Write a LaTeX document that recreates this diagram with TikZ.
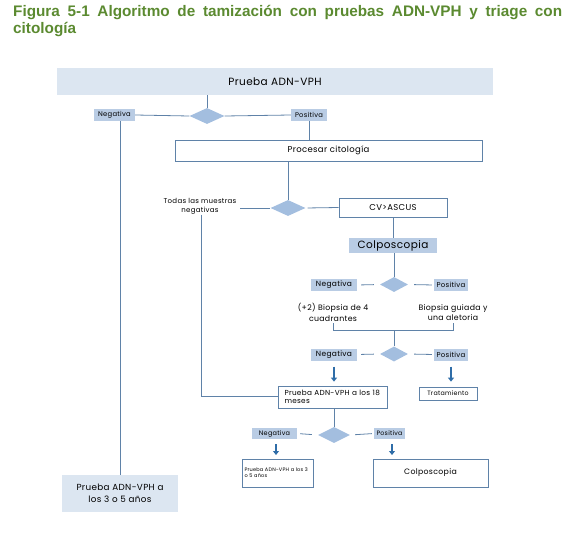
\documentclass[tikz,border=0pt]{standalone}
\usepackage{fontspec}
\setmainfont[LetterSpace=4]{Poppins}
\newfontfamily\titlefont{Liberation Sans}
\usetikzlibrary{shapes.geometric,arrows.meta}
\definecolor{titlegreen}{HTML}{5B8A30}
\definecolor{linecol}{HTML}{5F82A8}
\definecolor{arrcol}{HTML}{2F6DA8}
\definecolor{labfill}{HTML}{B9CCE4}
\definecolor{topfill}{HTML}{DCE6F1}
\definecolor{diafill}{HTML}{A3BEDF}
\newcommand{\fsz}[2]{\fontsize{#1}{#2}\selectfont}
\tikzset{
  lab/.style={fill=labfill, inner sep=0pt, font=\fsz{6.8}{8}},
  dia/.style={diamond, fill=diafill, inner sep=0pt},
  wbox/.style={draw=linecol, fill=white, line width=0.7pt, inner sep=0pt},
  ln/.style={draw=linecol, line width=0.8pt},
  arr/.style={draw=arrcol, line width=1.3pt, -{Triangle[length=4pt,width=6pt]}},
  plain/.style={inner sep=0pt, align=center, font=\fsz{7}{9}}
}
\begin{document}
\begin{tikzpicture}[x=1pt,y=-1pt]
\useasboundingbox (0,0) rectangle (574,535);
% title
\node[anchor=north west, inner sep=0pt, text width=549pt, align=justify, text=titlegreen,
  font=\titlefont\bfseries\fsz{15.3}{17}] (title) at (13,5)
  {Figura 5-1 Algoritmo de tamización con pruebas ADN-VPH y triage con\linebreak citología};

% top box
\node[fill=topfill, minimum width=436pt, minimum height=27pt, inner sep=0pt,
  font=\fsz{10.5}{12}] (top) at (275,81.5) {Prueba ADN-VPH};
\node[dia, minimum width=35pt, minimum height=16pt] (d1) at (207,116) {};
\node[lab, minimum width=41pt, minimum height=12pt] (n1) at (114.5,115) {Negativa};
\node[lab, minimum width=36pt, minimum height=12pt] (p1) at (309,115) {Positiva};
\node[wbox, minimum width=307pt, minimum height=21pt, font=\fsz{8.5}{10}] (proc) at (328.5,150.5) {Procesar citología};

\draw[ln] (top.south -| d1.north) -- (d1.north);
\draw[ln] (n1.east) -- (d1.west);
\draw[ln] (d1.east) -- (p1.west);
\draw[ln] (p1.south) -- (p1.south |- proc.north);

% second level
\node[dia, minimum width=35pt, minimum height=16pt] (d2) at (288,208) {};
\node[plain] (todas) at (200,206.5) {Todas las muestras\\negativas};
\node[wbox, minimum width=108pt, minimum height=19pt, font=\fsz{8.5}{10}] (cv) at (393,207.5) {CV>ASCUS};
\node[fill=labfill, minimum width=88pt, minimum height=15pt, inner sep=0pt, font=\fsz{10.5}{12}] (colp) at (393,245.5) {Colposcopia};

\draw[ln] (proc.south -| d2.north) -- (d2.north);
\draw[ln] (240,208) -- (d2.west);
\draw[ln, shorten <=2pt] (d2.east) -- (cv.west);
\draw[ln] (cv.south) -- (colp.north);

% third level
\node[dia, minimum width=28pt, minimum height=15pt] (d3) at (394,284.5) {};
\node[lab, minimum width=46pt, minimum height=12pt, font=\fsz{7.5}{9}] (n2) at (334,285) {Negativa};
\node[lab, minimum width=34pt, minimum height=12pt, font=\fsz{7}{9}] (p2) at (451,285) {Positiva};
\draw[ln] (colp.south -| d3.north) -- (d3.north);
\draw[ln, shorten <=4pt, shorten >=6pt] (n2.east) -- (d3.west);
\draw[ln, shorten <=6pt, shorten >=2pt] (d3.east) -- (p2.west);

\node[plain, font=\fsz{7.8}{10.5}] (b1) at (333,312.5) {(+2) Biopsia de 4\\cuadrantes};
\node[plain, font=\fsz{7.8}{10.5}] (b2) at (453,312.5) {Biopsia guiada y\\una aletoria};
\coordinate (bl) at (333,323);
\coordinate (br) at (453,323);
\coordinate (bc) at (394,330);
\draw[ln] (bl) -- (bl |- bc) -- (br |- bc) -- (br);

% fourth level
\node[dia, minimum width=28pt, minimum height=15pt] (d4) at (394,354) {};
\node[lab, minimum width=46pt, minimum height=12pt, font=\fsz{7.5}{9}] (n3) at (334,354.5) {Negativa};
\node[lab, minimum width=34pt, minimum height=12pt, font=\fsz{7}{9}] (p3) at (451,354.5) {Positiva};
\draw[ln] (bc) -- (d4.north);
\draw[ln, shorten <=4pt, shorten >=6pt] (n3.east) -- (d4.west);
\draw[ln, shorten <=6pt, shorten >=2pt] (d4.east) -- (p3.west);

\node[wbox, minimum width=109pt, minimum height=22pt, align=left, text width=96pt,
  font=\fsz{7.3}{8.5}] (m18) at (332.5,397) {Prueba ADN-VPH a los 18\\meses};
\node[wbox, minimum width=58pt, minimum height=13pt, font=\fsz{6.3}{7.5}] (trat) at (448,393.5) {Tratamiento};
\draw[arr, shorten <=6pt, shorten >=4pt] (n3.south) -- (n3.south |- m18.north);
\draw[arr, shorten <=6pt, shorten >=5pt] (p3.south) -- (p3.south |- trat.north);

\coordinate (lc) at (201,396);
\draw[ln] (todas.south -| lc) -- (lc) -- (m18.west |- lc);

% fifth level
\node[dia, minimum width=32pt, minimum height=16pt] (d5) at (334,435) {};
\node[lab, minimum width=45pt, minimum height=11pt, font=\fsz{6.5}{8}] (n4) at (274.5,433.5) {Negativa};
\node[lab, minimum width=31pt, minimum height=11pt, font=\fsz{6.3}{8}] (p4) at (389.5,433.5) {Positiva};
\draw[ln] (m18.south -| d5.north) -- (d5.north);
\draw[ln, shorten <=3pt, shorten >=6pt] (n4.east) -- (d5.west);
\draw[ln, shorten <=5pt, shorten >=2pt] (d5.east) -- (p4.west);

\node[wbox, minimum width=71pt, minimum height=28pt, align=left, text width=66pt,
  font=\fsz{5}{6.2}] (b35) at (277.5,473) {\mbox{Prueba ADN-VPH a los 3}\\o 5 años};
\node[wbox, minimum width=115pt, minimum height=28pt, font=\fsz{7.8}{9}] (colp2) at (430.5,473) {Colposcopia};
\draw[arr, shorten <=5pt, shorten >=4pt] (n4.south -| 276,0) -- (276,459);
\draw[arr, shorten <=5pt, shorten >=4pt] (p4.south -| 392,0) -- (392,459);

% bottom-left
\node[fill=topfill, minimum width=116pt, minimum height=37pt, inner sep=0pt, align=center,
  font=\fsz{8.8}{11.5}] (bl35) at (120,493.5) {Prueba ADN-VPH a\\los 3 o 5 años};
\draw[ln] (n1.south -| 120,0) -- (bl35.north);
\end{tikzpicture}
\end{document}
